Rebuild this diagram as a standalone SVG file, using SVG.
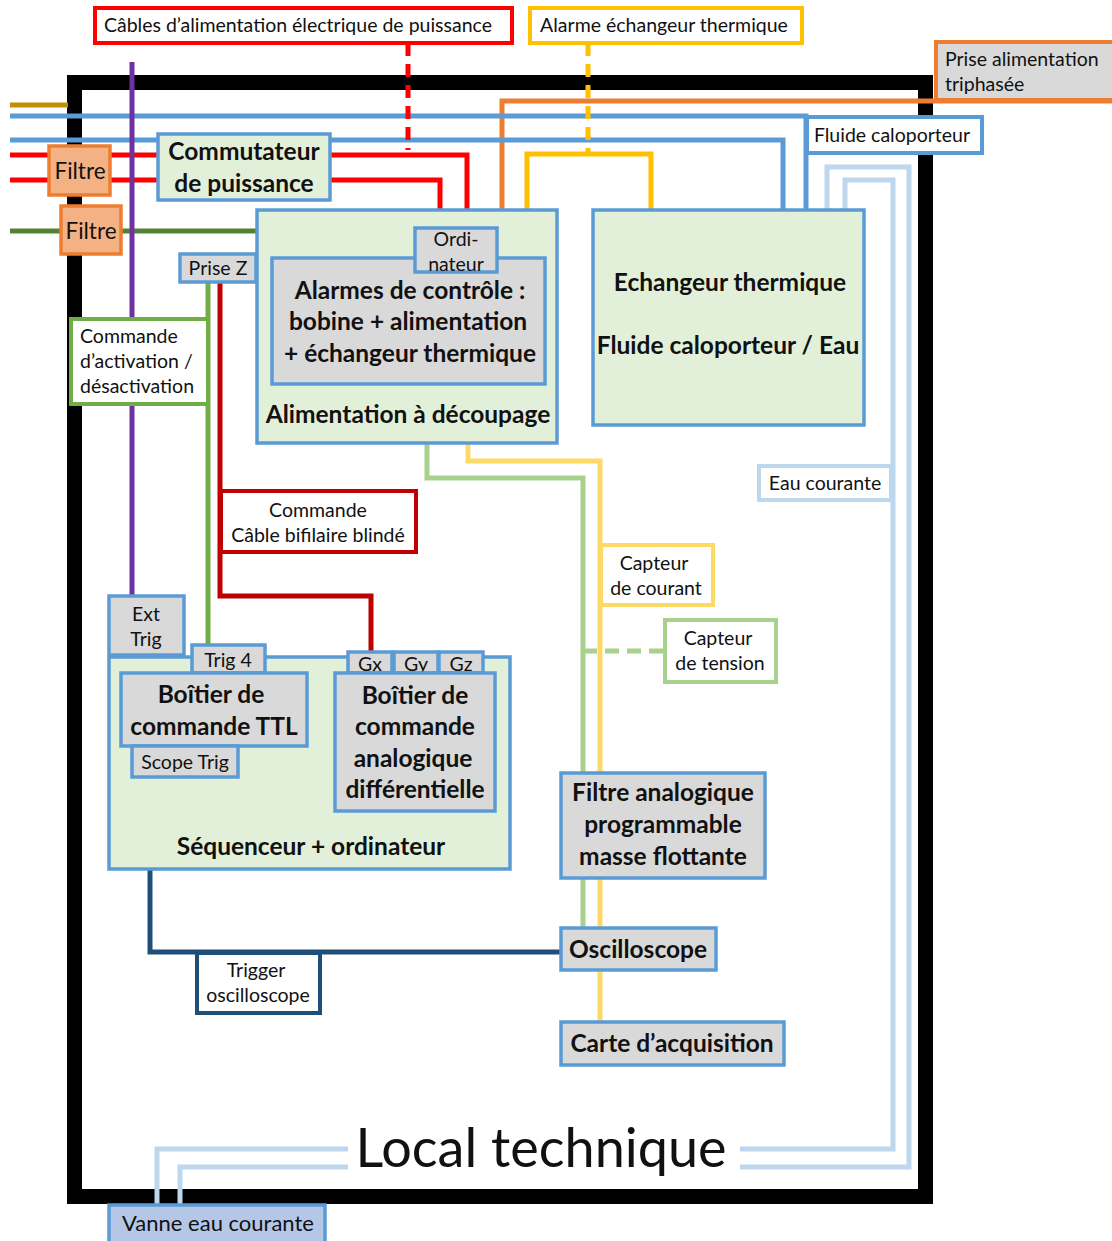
<svg xmlns="http://www.w3.org/2000/svg" width="1112" height="1241" viewBox="0 0 1112 1241">
<style>
text{font-family:Lato,"Liberation Sans",sans-serif;fill:#111;}
.t{font-size:19.5px;text-anchor:middle;}
.tl{font-size:19.5px;}
.b{font-size:24.5px;font-weight:bold;text-anchor:middle;}
.c{fill:none;stroke-width:5;stroke-linejoin:miter;}
.box{stroke-width:3.5;}
.g{fill:#e2f0d9;stroke:#5b9bd5;}
.gr{fill:#d9d9d9;stroke:#5b9bd5;}
.w{fill:#fff;}
.f{fill:#f4b183;stroke:#ed7d31;}
</style>
<rect width="1112" height="1241" fill="#fff"/>
<rect id="frame" x="74.5" y="82.5" width="851" height="1114" fill="none" stroke="#000" stroke-width="15"/>
<g id="connectors">
<path class="c" stroke="#bf9000" d="M10,105 H68"/>
<path class="c" stroke="#ed7d31" d="M1112,101 H502 V210"/>
<path class="c" stroke="#5b9bd5" d="M10,116 H806 V210"/>
<path class="c" stroke="#5b9bd5" d="M10,140 H783 V210"/>
<path class="c" stroke="#ff0000" d="M10,155 H467 V210"/>
<path class="c" stroke="#ff0000" d="M10,180 H440 V210"/>
<path class="c" stroke="#ff0000" stroke-dasharray="13,8" d="M408,43 V150"/>
<path class="c" stroke="#ffc000" stroke-dasharray="13,8" d="M588,43 V152"/>
<path class="c" stroke="#ffc000" d="M527,258 V154 H651 V210"/>
<path class="c" stroke="#548235" d="M10,231 H386 V258"/>
<path class="c" stroke="#7030a0" d="M132,62 V596"/>
<path class="c" stroke="#70ad47" d="M208,282 V645"/>
<path class="c" stroke="#c00000" d="M220,282 V596 H371 V652"/>
<path class="c" stroke="#a9d18e" d="M427,443 V478 H583 V928"/>
<path class="c" stroke="#ffd966" d="M468,443 V461 H600 V1022"/>
<path class="c" stroke="#a9d18e" stroke-dasharray="14,8" d="M583,651 H665"/>
<path class="c" stroke="#bdd7ee" d="M827,210 V167 H909 V1167 H740"/>
<path class="c" stroke="#bdd7ee" d="M845,210 V180 H893 V1149 H740"/>
<path class="c" stroke="#bdd7ee" d="M348,1149 H157 V1205"/>
<path class="c" stroke="#bdd7ee" d="M348,1167 H180 V1205"/>
<path class="c" stroke="#1f4e79" d="M150,777 V952 H561"/>
</g>
<g id="lbl-cables"><rect x="95" y="8" width="417" height="35" class="w" stroke="#ff0000" stroke-width="4"/><text class="t" x="298" y="32">Câbles d’alimentation électrique de puissance</text></g>
<g id="lbl-alarme"><rect x="530" y="8" width="272" height="35" class="w" stroke="#ffc000" stroke-width="4"/><text class="t" x="664" y="32">Alarme échangeur thermique</text></g>
<g id="prise-tri"><rect x="936" y="42" width="180" height="58" fill="#d9d9d9" stroke="#ed7d31" stroke-width="4"/><text class="tl" x="945" y="66">Prise alimentation</text><text class="tl" x="945" y="91">triphasée</text></g>
<g id="fluide"><rect x="807" y="117" width="175" height="36" class="w" stroke="#5b9bd5" stroke-width="4"/><text class="t" x="892" y="142">Fluide caloporteur</text></g>
<g id="commutateur"><rect x="158" y="134" width="172" height="66" class="g box"/><text class="b" x="244" y="160">Commutateur</text><text class="b" x="244" y="192">de puissance</text></g>
<g id="filtre1"><rect x="49" y="146" width="61" height="49" class="f box"/><text x="80" y="179" font-size="22.5" text-anchor="middle">Filtre</text></g>
<g id="filtre2"><rect x="61" y="206" width="60" height="48" class="f box"/><text x="91" y="239" font-size="22.5" text-anchor="middle">Filtre</text></g>
<g id="alimentation"><rect x="257" y="210" width="300" height="233" class="g box"/><text class="b" x="408" y="423">Alimentation à découpage</text></g>
<g id="alarmes"><rect x="272" y="258" width="273" height="126" class="gr box"/><text class="b" x="410" y="299">Alarmes de contrôle :</text><text class="b" x="408" y="330">bobine + alimentation</text><text class="b" x="410" y="362">+ échangeur thermique</text></g>
<g id="ordinateur"><rect x="415" y="228" width="82" height="44" class="gr box"/><text class="t" x="456" y="246">Ordi-</text><text class="t" x="456" y="271">nateur</text></g>
<g id="prise-z"><rect x="180" y="254" width="76" height="28" class="gr box"/><text class="t" x="218" y="275">Prise Z</text></g>
<g id="commande-act"><rect x="71" y="319" width="137" height="85" class="w" stroke="#70ad47" stroke-width="4"/><text class="tl" x="80" y="343">Commande</text><text class="tl" x="80" y="368">d’activation /</text><text class="tl" x="80" y="393">désactivation</text></g>
<g id="commande-cable"><rect x="221" y="491" width="195" height="61" class="w" stroke="#c00000" stroke-width="4"/><text class="t" x="318" y="517">Commande</text><text class="t" x="318" y="542">Câble bifilaire blindé</text></g>
<g id="echangeur"><rect x="593" y="210" width="271" height="215" class="g box"/><text class="b" x="730" y="291">Echangeur thermique</text><text class="b" x="728" y="354">Fluide caloporteur / Eau</text></g>
<g id="eau-courante"><rect x="759" y="466" width="132" height="34" class="w" stroke="#bdd7ee" stroke-width="4"/><text class="t" x="825" y="490">Eau courante</text></g>
<g id="capteur-courant"><rect x="601" y="545" width="112" height="60" class="w" stroke="#ffd966" stroke-width="4"/><text class="t" x="654" y="570">Capteur</text><text class="t" x="656" y="595">de courant</text></g>
<g id="capteur-tension"><rect x="665" y="620" width="111" height="62" class="w" stroke="#a9d18e" stroke-width="4"/><text class="t" x="718" y="645">Capteur</text><text class="t" x="720" y="670">de tension</text></g>
<g id="sequenceur"><rect x="109" y="657" width="401" height="212" class="g box"/><text class="b" x="311" y="855">Séquenceur + ordinateur</text></g>
<g id="ext-trig"><rect x="109" y="596" width="75" height="59" class="gr box"/><text class="t" x="146" y="621">Ext</text><text class="t" x="146" y="646">Trig</text></g>
<g id="trig4"><rect x="192" y="645" width="73" height="28" class="gr box"/><text class="t" x="228" y="667">Trig 4</text></g>
<g id="ttl"><rect x="121" y="673" width="186" height="73" class="gr box"/><text class="b" x="211" y="703">Boîtier de</text><text class="b" x="214" y="735">commande TTL</text></g>
<g id="scope-trig"><rect x="132" y="746" width="106" height="31" class="gr box"/><text class="t" x="185" y="769">Scope Trig</text></g>
<g id="gx"><rect x="348" y="652" width="44" height="21" class="gr box"/><text class="t" x="370" y="671">Gx</text></g>
<g id="gy"><rect x="394" y="652" width="44" height="21" class="gr box"/><text class="t" x="416" y="671">Gy</text></g>
<g id="gz"><rect x="439" y="652" width="44" height="21" class="gr box"/><text class="t" x="461" y="671">Gz</text></g>
<g id="analogique"><rect x="335" y="673" width="160" height="138" class="gr box"/><text class="b" x="415" y="704">Boîtier de</text><text class="b" x="415" y="735">commande</text><text class="b" x="413" y="767">analogique</text><text class="b" x="415" y="798">différentielle</text></g>
<g id="filtre-analogique"><rect x="561" y="773" width="204" height="105" class="gr box"/><text class="b" x="663" y="801">Filtre analogique</text><text class="b" x="663" y="833">programmable</text><text class="b" x="663" y="865">masse flottante</text></g>
<g id="trigger-osc"><rect x="197" y="953" width="123" height="60" class="w" stroke="#1f4e79" stroke-width="4"/><text class="t" x="256" y="977">Trigger</text><text class="t" x="258" y="1002">oscilloscope</text></g>
<g id="oscilloscope"><rect x="561" y="928" width="155" height="42" class="gr box"/><text class="b" x="638" y="958">Oscilloscope</text></g>
<g id="carte"><rect x="561" y="1022" width="223" height="43" class="gr box"/><text class="b" x="672" y="1052">Carte d’acquisition</text></g>
<g id="vanne"><rect x="109" y="1205" width="216" height="40" fill="#b4c7e7" stroke="#5b9bd5" stroke-width="3.5"/><text x="218" y="1231" font-size="22" text-anchor="middle">Vanne eau courante</text></g>
<g id="local"><text x="541" y="1167" font-size="54" text-anchor="middle">Local technique</text></g>
</svg>
